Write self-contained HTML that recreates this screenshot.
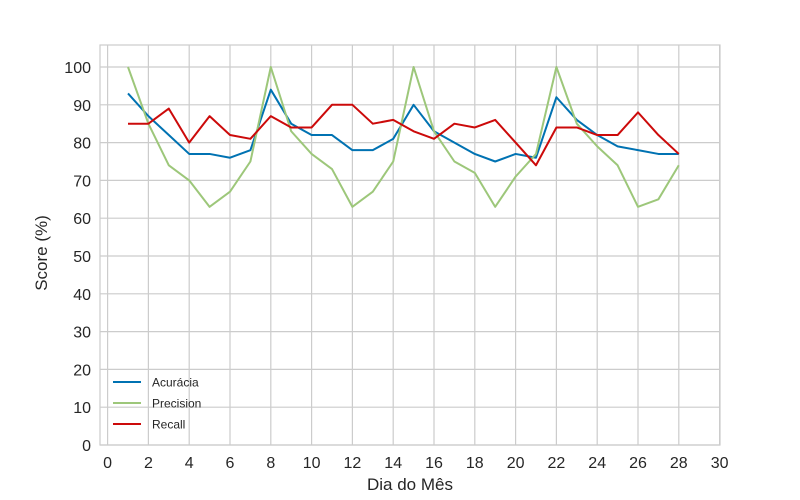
<!DOCTYPE html>
<html><head><meta charset="utf-8">
<style>
body{margin:0;background:#fff;}
svg{display:block;font-family:"Liberation Sans",sans-serif;}
</style></head>
<body>
<svg id="chart" width="800" height="500">
<rect x="0" y="0" width="800" height="500" fill="#fff"/>
<g id="grid"></g>
<g id="ticks"></g>
<rect x="100" y="45" width="620" height="400" fill="none" stroke="#cccccc" stroke-width="1.2"/>
<g id="series"></g>
<text x="410" y="490" text-anchor="middle" font-size="17" fill="#262626">Dia do Mês</text>
<text transform="translate(47,253) rotate(-90)" text-anchor="middle" font-size="17" fill="#262626">Score (%)</text>
<g id="legend"></g>
</svg>
<script>
const days = [1,2,3,4,5,6,7,8,9,10,11,12,13,14,15,16,17,18,19,20,21,22,23,24,25,26,27,28];
const acuracia = [93,87,82,77,77,76,78,94,85,82,82,78,78,81,90,83,80,77,75,77,76,92,86,82,79,78,77,77];
const precision = [100,85,74,70,63,67,75,100,83,77,73,63,67,75,100,83,75,72,63,71,77,100,85,79,74,63,65,74];
const recall = [85,85,89,80,87,82,81,87,84,84,90,90,85,86,83,81,85,84,86,80,74,84,84,82,82,88,82,77];
const xTicks = [0,2,4,6,8,10,12,14,16,18,20,22,24,26,28,30];
const yTicks = [0,10,20,30,40,50,60,70,80,90,100];
const seriesNames = ["Acurácia","Precision","Recall"];
const seriesColors = ["#0072b2","#9dc77a","#cc0a0a"];

const NS="http://www.w3.org/2000/svg";
function X(v){return 107.6+v*20.4;}
function Y(v){return 445-v*3.78;}
function mk(tag,attrs,parent){const e=document.createElementNS(NS,tag);for(const k in attrs)e.setAttribute(k,attrs[k]);parent.appendChild(e);return e;}
const grid=document.getElementById('grid'),ticks=document.getElementById('ticks');
xTicks.forEach(t=>{
  const l=mk('line',{x1:X(t),x2:X(t),y1:45,y2:445,stroke:'#cccccc','stroke-width':1.2},grid);
  
  
  const tx=mk('text',{x:X(t),y:468,'text-anchor':'middle','font-size':16,fill:'#262626'},ticks);
  tx.textContent=t;
  
  
});
yTicks.forEach(t=>{
  const l=mk('line',{x1:100,x2:720,y1:Y(t),y2:Y(t),stroke:'#cccccc','stroke-width':1.2},grid);
  
  
  const tx=mk('text',{x:91,y:Y(t)+6,'text-anchor':'end','font-size':16,fill:'#262626'},ticks);
  tx.textContent=t;
  
  
});
const sg=document.getElementById('series');
[acuracia,precision,recall].forEach((vals,i)=>{
  const pts=vals.map((v,j)=>X(days[j])+','+Y(v)).join(' ');
  const p=mk('polyline',{points:pts,fill:'none',stroke:seriesColors[i],'stroke-width':2,'stroke-linejoin':'round'},sg);
  
  
});
const lg=document.getElementById('legend');
seriesNames.forEach((n,i)=>{
  const y=382+i*21;
  const l=mk('line',{x1:113,x2:141,y1:y,y2:y,stroke:seriesColors[i],'stroke-width':2},lg);
  
  
  const t=mk('text',{x:152,y:y+4.5,'font-size':12,fill:'#262626'},lg);
  t.textContent=n;
  
  
});
</script>
</body></html>
